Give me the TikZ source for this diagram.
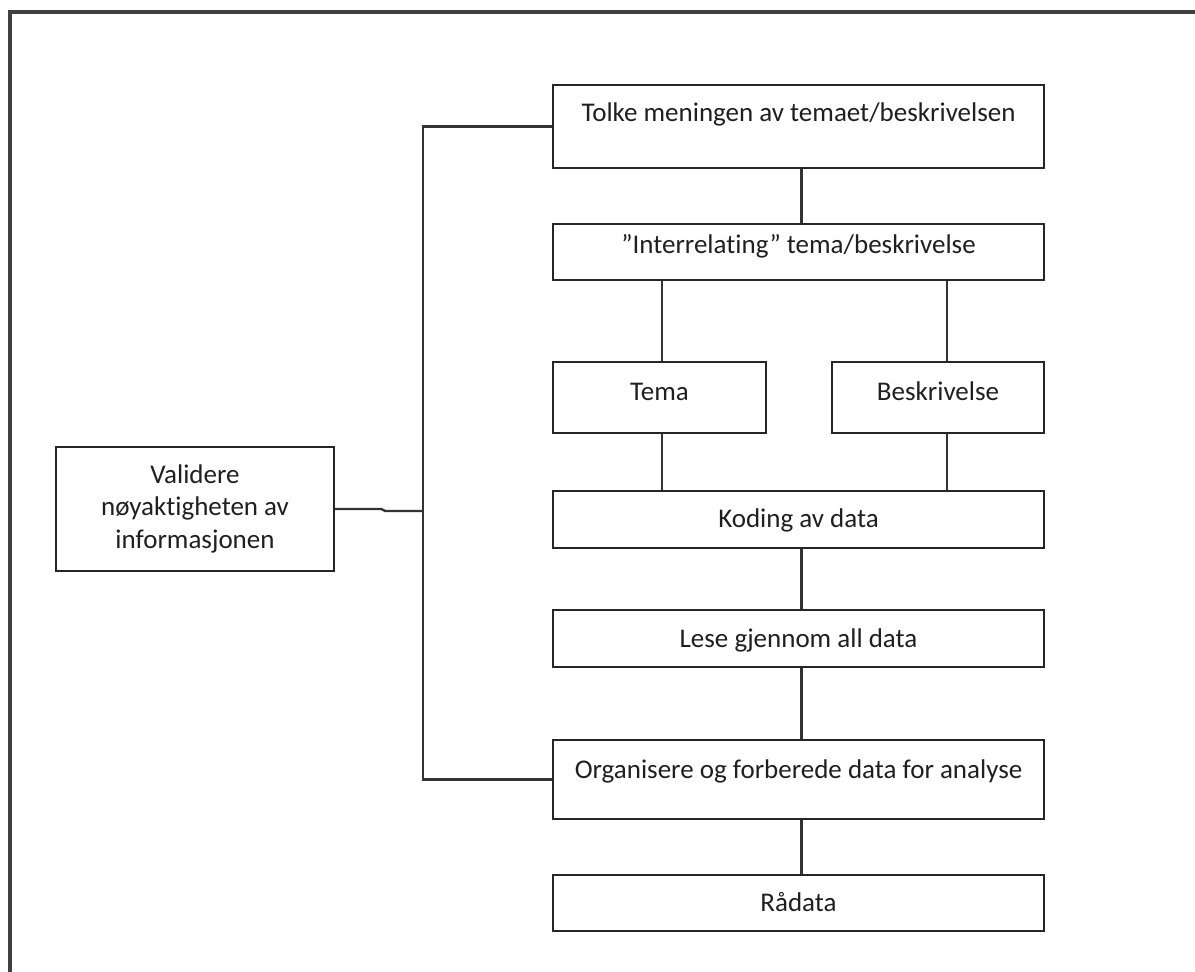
\documentclass[tikz,border=0pt]{standalone}
\usepackage{fontspec}
\setmainfont{Carlito}[Ligatures=NoCommon]
\begin{document}
\begin{tikzpicture}[x=1pt,y=-1pt,
  box/.style={draw=black!85, line width=2.4pt, rectangle, inner sep=0pt},
  lbl/.style={anchor=base, inner sep=0pt, text=black!88, font=\fontsize{27}{33}\selectfont},
  link/.style={draw=black!80, line width=2.4pt}]
\useasboundingbox (0,0) rectangle (1195,972);
% page frame
\draw[black!75, line width=3.2pt] (10,12) rectangle (1215,995);

% boxes
\node[box, minimum width=491pt, minimum height=83pt]  (tolke) at (798.5,126.5) {};
\node[box, minimum width=491pt, minimum height=56pt]  (inter) at (798.5,252) {};
\node[box, minimum width=213pt, minimum height=71pt]  (tema)  at (659.5,397.5) {};
\node[box, minimum width=212pt, minimum height=71pt]  (besk)  at (938,397.5) {};
\node[box, minimum width=491pt, minimum height=57pt]  (koding) at (798.5,519.5) {};
\node[box, minimum width=491pt, minimum height=57pt]  (lese)  at (798.5,638.5) {};
\node[box, minimum width=491pt, minimum height=79pt]  (org)   at (798.5,779.5) {};
\node[box, minimum width=491pt, minimum height=56pt]  (raa)   at (798.5,903) {};
\node[box, minimum width=278pt, minimum height=124pt] (val)   at (195,509) {};

% labels
\node[lbl] (tolke-t)  at (798.5,121) {Tolke meningen av temaet/beskrivelsen};
\node[lbl] (inter-t)  at (798.5,253) {”Interrelating” tema/beskrivelse};
\node[lbl] (tema-t)   at (659.5,400) {Tema};
\node[lbl] (besk-t)   at (938,400) {Beskrivelse};
\node[lbl] (koding-t) at (798.5,527) {Koding av data};
\node[lbl] (lese-t)   at (798.5,647) {Lese gjennom all data};
\node[lbl] (org-t)    at (798.5,778) {Organisere og forberede data for analyse};
\node[lbl] (raa-t)    at (798.5,911) {Rådata};
\node[lbl] (val-t1)   at (195,483) {Validere};
\node[lbl] (val-t2)   at (195,515) {nøyaktigheten av};
\node[lbl] (val-t3)   at (195,548) {informasjonen};

% connectors
\draw[link] ([xshift=3pt]tolke.south) -- ([xshift=3pt]inter.north);
\draw[link] ([xshift=2.5pt]tema.north |- inter.south) -- ([xshift=2.5pt]tema.north);
\draw[link] ([xshift=9pt]besk.north |- inter.south) -- ([xshift=9pt]besk.north);
\draw[link] ([xshift=2.5pt]tema.south) -- ([xshift=2.5pt]tema.south |- koding.north);
\draw[link] ([xshift=9pt]besk.south) -- ([xshift=9pt]besk.south |- koding.north);
\draw[link] ([xshift=3pt]koding.south) -- ([xshift=3pt]lese.north);
\draw[link] ([xshift=3pt]lese.south) -- ([xshift=3pt]org.north);
\draw[link] ([xshift=3pt]org.south) -- ([xshift=3pt]raa.north);

% left bracket joining the validation step
\coordinate (bus) at (423,511);
\draw[link] (tolke.west) -| (bus) |- (org.west);
\draw[link] (val.east) -- ++(46,0) -- ++(4,2) -- (bus);
\end{tikzpicture}
\end{document}
